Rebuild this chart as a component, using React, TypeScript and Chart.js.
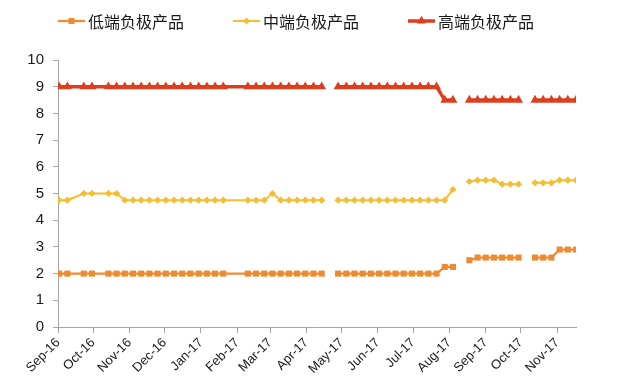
import React, { useEffect, useRef } from 'react';
import { Chart, registerables } from 'chart.js';

Chart.register(...registerables);

// Weekly observation dates (weeks absent from the source are simply not listed)
const DATES = [
  '2016-09-02', '2016-09-09', '2016-09-23', '2016-09-30', '2016-10-14', '2016-10-21', '2016-10-28',
  '2016-11-04', '2016-11-11', '2016-11-18', '2016-11-25', '2016-12-02', '2016-12-09', '2016-12-16',
  '2016-12-23', '2016-12-30', '2017-01-06', '2017-01-13', '2017-01-20', '2017-02-10', '2017-02-17',
  '2017-02-24', '2017-03-03', '2017-03-10', '2017-03-17', '2017-03-24', '2017-03-31', '2017-04-07',
  '2017-04-14', '2017-04-21', '2017-04-28', '2017-05-05', '2017-05-12', '2017-05-19', '2017-05-26',
  '2017-06-02', '2017-06-09', '2017-06-16', '2017-06-23', '2017-06-30', '2017-07-07', '2017-07-14',
  '2017-07-21', '2017-07-28', '2017-08-04', '2017-08-11', '2017-08-18', '2017-08-25', '2017-09-01',
  '2017-09-08', '2017-09-15', '2017-09-22', '2017-09-29', '2017-10-06', '2017-10-13', '2017-10-20',
  '2017-10-27', '2017-11-03', '2017-11-10', '2017-11-17',
];

const LOW_END = [
  2, 2, 2, 2, 2, 2, 2,
  2, 2, 2, 2, 2, 2, 2,
  2, 2, 2, 2, 2, 2, 2,
  2, 2, 2, 2, 2, 2, 2,
  2, null, 2, 2, 2, 2, 2,
  2, 2, 2, 2, 2, 2, 2,
  2, 2.25, 2.25, null, 2.5, 2.6, 2.6,
  2.6, 2.6, 2.6, 2.6, null, 2.6, 2.6,
  2.6, 2.9, 2.9, 2.9,
];

const MID_END = [
  4.75, 4.75, 5, 5, 5, 5, 4.75,
  4.75, 4.75, 4.75, 4.75, 4.75, 4.75, 4.75,
  4.75, 4.75, 4.75, 4.75, 4.75, 4.75, 4.75,
  4.75, 5, 4.75, 4.75, 4.75, 4.75, 4.75,
  4.75, null, 4.75, 4.75, 4.75, 4.75, 4.75,
  4.75, 4.75, 4.75, 4.75, 4.75, 4.75, 4.75,
  4.75, 4.75, 5.15, null, 5.45, 5.5, 5.5,
  5.5, 5.35, 5.35, 5.35, null, 5.4, 5.4,
  5.4, 5.5, 5.5, 5.5,
];

const HIGH_END = [
  9, 9, 9, 9, 9, 9, 9,
  9, 9, 9, 9, 9, 9, 9,
  9, 9, 9, 9, 9, 9, 9,
  9, 9, 9, 9, 9, 9, 9,
  9, null, 9, 9, 9, 9, 9,
  9, 9, 9, 9, 9, 9, 9,
  9, 8.5, 8.5, null, 8.5, 8.5, 8.5,
  8.5, 8.5, 8.5, 8.5, null, 8.5, 8.5,
  8.5, 8.5, 8.5, 8.5,
];

const SERIES_NAMES = ['低端负极产品', '中端负极产品', '高端负极产品'];

const MONTH_TICKS = [
  '2016-09-01', '2016-10-01', '2016-11-01', '2016-12-01', '2017-01-01', '2017-02-01', '2017-03-01',
  '2017-04-01', '2017-05-01', '2017-06-01', '2017-07-01', '2017-08-01', '2017-09-01', '2017-10-01',
  '2017-11-01',
];
const MONTH_LABELS = [
  'Sep-16', 'Oct-16', 'Nov-16', 'Dec-16', 'Jan-17', 'Feb-17', 'Mar-17',
  'Apr-17', 'May-17', 'Jun-17', 'Jul-17', 'Aug-17', 'Sep-17', 'Oct-17',
  'Nov-17',
];

const Y_MIN = 0;
const Y_MAX = 10;
const Y_STEP = 1;

const COLORS = ['#EE8A2F', '#F5BD30', '#DD3E1E'];

const dayNum = (s: string) =>
  Date.UTC(+s.slice(0, 4), +s.slice(5, 7) - 1, +s.slice(8, 10)) / 86400000;

function drawMarker(ctx: CanvasRenderingContext2D, style: string, x: number, y: number, r: number) {
  ctx.beginPath();
  if (style === 'rect') {
    const h = r * Math.SQRT1_2;
    ctx.rect(x - h, y - h, 2 * h, 2 * h);
  } else if (style === 'rectRot') {
    ctx.moveTo(x, y - r);
    ctx.lineTo(x + r, y);
    ctx.lineTo(x, y + r);
    ctx.lineTo(x - r, y);
    ctx.closePath();
  } else {
    ctx.moveTo(x, y - r);
    ctx.lineTo(x + r * Math.sin(Math.PI / 3), y + r / 2);
    ctx.lineTo(x - r * Math.sin(Math.PI / 3), y + r / 2);
    ctx.closePath();
  }
  ctx.fill();
}

const legendPlugin = {
  id: 'customLegend',
  afterDraw(chart: any) {
    const ctx = chart.ctx as CanvasRenderingContext2D;
    ctx.save();
    ctx.font = '16px "Noto Sans CJK SC", sans-serif';
    ctx.textBaseline = 'middle';
    let x = 58;
    const y = 21;
    chart.data.datasets.forEach((ds: any) => {
      const lineLen = 27;
      ctx.strokeStyle = ds.borderColor;
      ctx.lineWidth = ds.borderWidth;
      ctx.beginPath();
      ctx.moveTo(x, y);
      ctx.lineTo(x + lineLen, y);
      ctx.stroke();
      ctx.fillStyle = ds.borderColor;
      drawMarker(ctx, ds.pointStyle, x + lineLen / 2, y, ds.pointRadius);
      ctx.fillStyle = '#1a1a1a';
      ctx.fillText(ds.label, x + lineLen + 3, y + 1);
      const tw = ctx.measureText(ds.label).width;
      x = x + lineLen + 3 + tw + 49;
    });
    ctx.restore();
  },
};

export default function App() {
  const ref = useRef<HTMLCanvasElement | null>(null);

  useEffect(() => {
    document.body.style.margin = '0';
    const canvas = ref.current;
    if (!canvas) return;
    const toPoints = (vals: (number | null)[]) =>
      DATES.map((d, i) => ({ x: dayNum(d), y: vals[i] }));

    const chart = new Chart(canvas, {
      type: 'line',
      data: {
        datasets: [
          {
            label: SERIES_NAMES[0],
            data: toPoints(LOW_END) as any,
            borderColor: COLORS[0],
            backgroundColor: COLORS[0],
            borderWidth: 2.25,
            pointStyle: 'rect',
            pointRadius: 4.3,
            pointBorderWidth: 0,
            pointBackgroundColor: COLORS[0],
            spanGaps: false,
          },
          {
            label: SERIES_NAMES[1],
            data: toPoints(MID_END) as any,
            borderColor: COLORS[1],
            backgroundColor: COLORS[1],
            borderWidth: 2,
            pointStyle: 'rectRot',
            pointRadius: 3.6,
            pointBorderWidth: 0,
            pointBackgroundColor: COLORS[1],
            spanGaps: false,
          },
          {
            label: SERIES_NAMES[2],
            data: toPoints(HIGH_END) as any,
            borderColor: COLORS[2],
            backgroundColor: COLORS[2],
            borderWidth: 3.5,
            pointStyle: 'triangle',
            pointRadius: 5.2,
            pointBorderWidth: 0,
            pointBackgroundColor: COLORS[2],
            spanGaps: false,
          },
        ],
      },
      options: {
        animation: false,
        responsive: false,
        devicePixelRatio: 1,
        layout: { padding: { top: 60, right: 51, left: 0, bottom: 0 } },
        plugins: {
          legend: { display: false },
          tooltip: { enabled: false },
        },
        elements: { line: { tension: 0 } },
        scales: {
          x: {
            type: 'linear',
            min: dayNum(MONTH_TICKS[0]),
            max: dayNum(DATES[DATES.length - 1]),
            afterBuildTicks: (scale: any) => {
              scale.ticks = MONTH_TICKS.map((d) => ({ value: dayNum(d) }));
            },
            afterFit: (scale: any) => {
              scale.height = 62;
            },
            grid: {
              display: true,
              drawOnChartArea: false,
              drawTicks: true,
              tickLength: 6,
              color: '#a6a6a6',
            },
            border: { display: true, color: '#a6a6a6', width: 1 },
            ticks: {
              autoSkip: false,
              maxRotation: 45,
              minRotation: 45,
              padding: 2,
              color: '#1a1a1a',
              font: { family: '"Liberation Sans", Arial, sans-serif', size: 13 },
              callback: (_v: any, idx: number) => MONTH_LABELS[idx],
            },
          },
          y: {
            min: Y_MIN,
            max: Y_MAX,
            afterFit: (scale: any) => {
              scale.width = 58;
            },
            grid: {
              display: true,
              drawOnChartArea: false,
              drawTicks: true,
              tickLength: 5,
              color: '#a6a6a6',
            },
            border: { display: true, color: '#a6a6a6', width: 1 },
            ticks: {
              stepSize: Y_STEP,
              padding: 9,
              color: '#1a1a1a',
              font: { family: '"Liberation Sans", Arial, sans-serif', size: 15 },
            },
          },
        },
      },
      plugins: [legendPlugin],
    });
    return () => chart.destroy();
  }, []);

  return (
    <div style={{ width: 627, height: 389, position: 'relative' }}>
      <canvas ref={ref} width={627} height={389} style={{ display: 'block' }} />
    </div>
  );
}
